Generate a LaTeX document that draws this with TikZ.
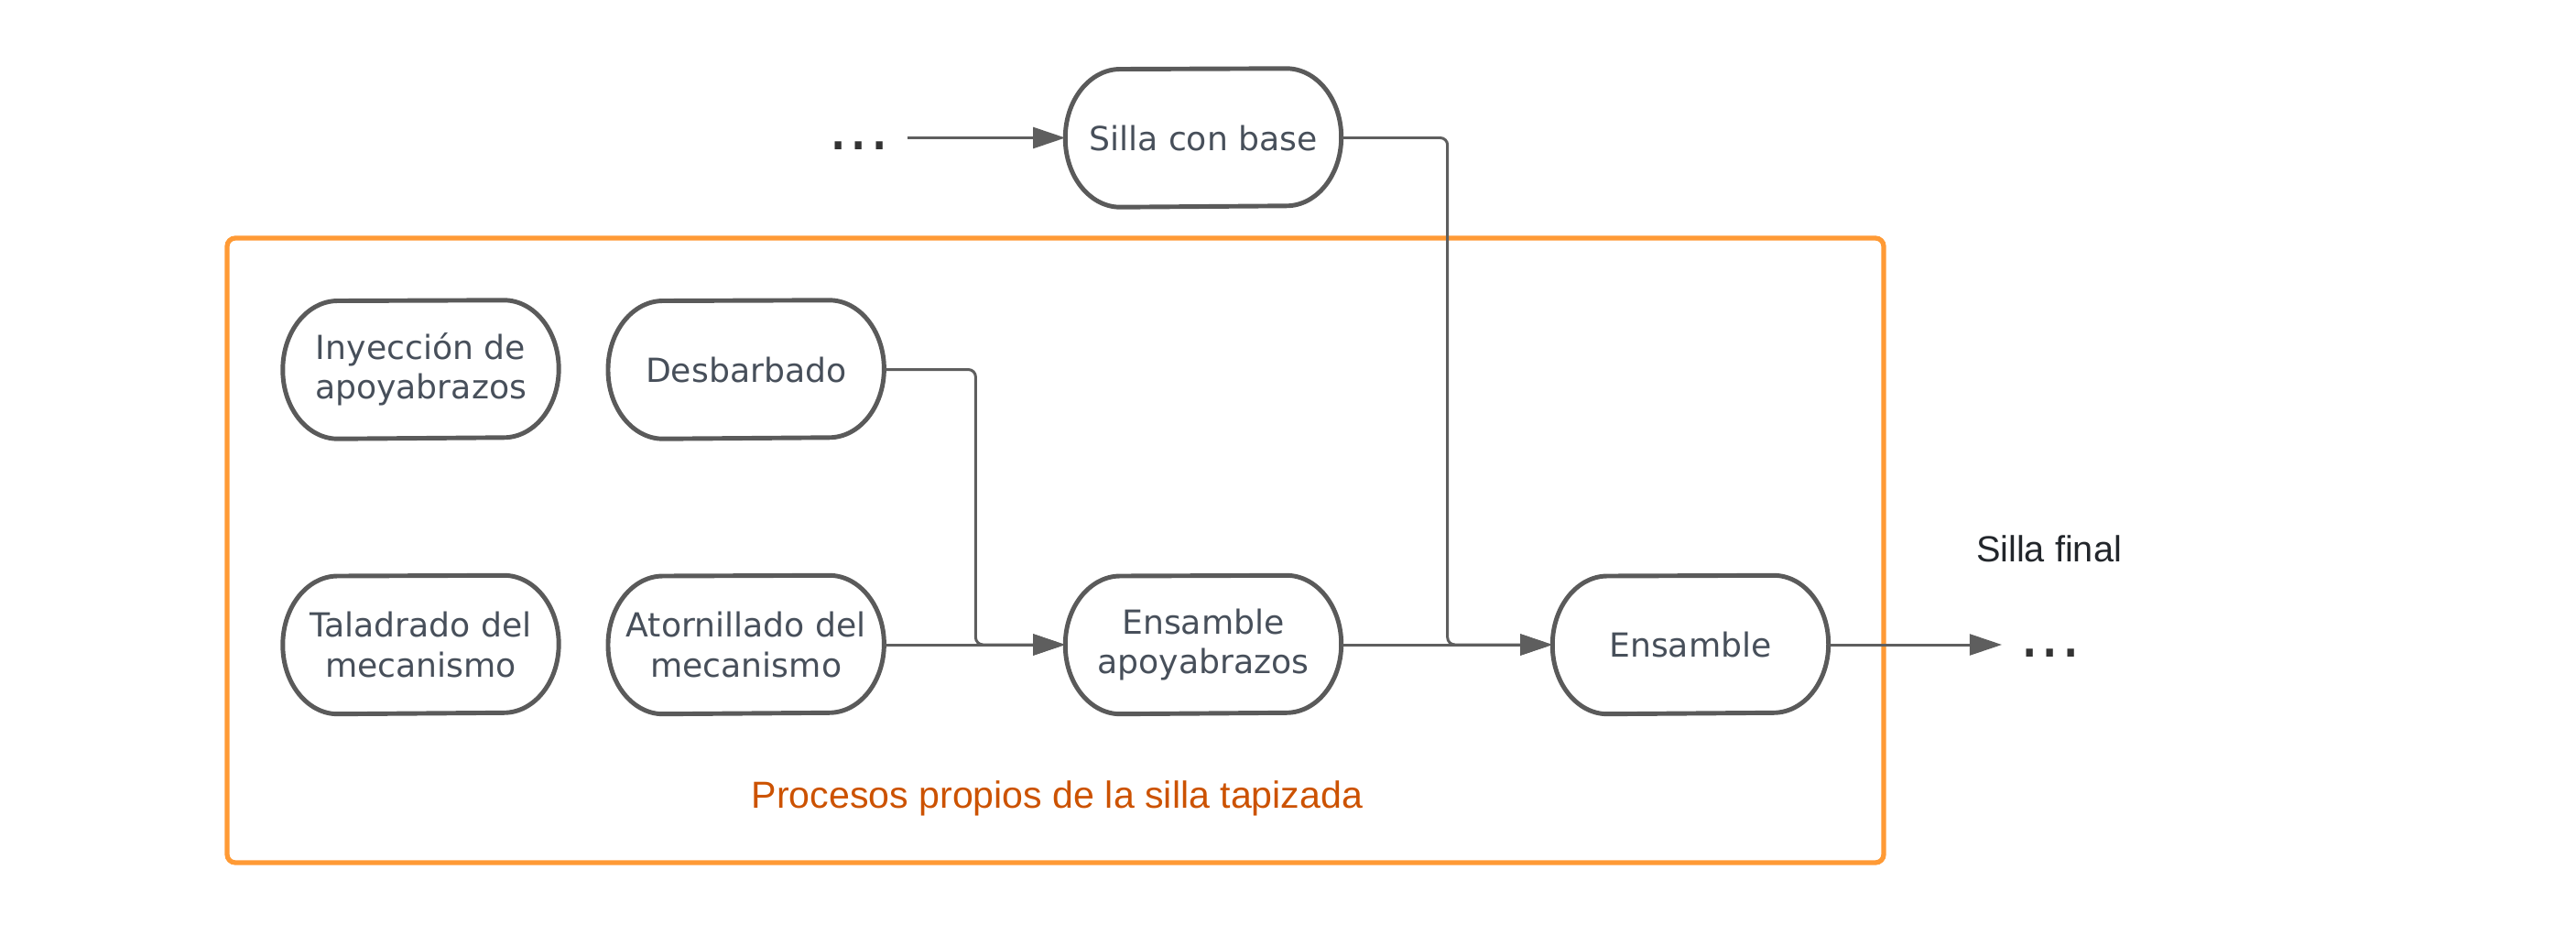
\documentclass[tikz,border=0pt]{standalone}
\usepackage{fontspec}
\setmainfont{Liberation Sans}
\newfontfamily\boxfont{DejaVu Sans}
\usetikzlibrary{arrows.meta}

\definecolor{boxgray}{HTML}{5A5A5A}
\definecolor{boxtext}{HTML}{474F5A}
\definecolor{linegray}{HTML}{5E5E5E}
\definecolor{dotgray}{HTML}{333333}
\definecolor{frameorange}{HTML}{FF9A35}
\definecolor{labelorange}{HTML}{CC5200}
\definecolor{finaltext}{HTML}{22262B}

\tikzset{
  proc/.style={minimum width=3cm, minimum height=1.5cm, inner sep=0pt, align=center,
    text=boxtext, font=\boxfont\fontsize{10.3}{12.3}\selectfont},
  outline/.style={draw=boxgray, line width=1.4pt, line join=round},
  conn/.style={draw=linegray, line width=0.85pt, -{Triangle[length=10pt,width=6.5pt]}},
  dots/.style={text=dotgray, anchor=base, font=\boxfont\fontsize{20}{24}\selectfont},
}

\begin{document}
\begin{tikzpicture}
\useasboundingbox (0,0) rectangle (28.13,-10.33);

%frame
\path[draw=frameorange,line width=1.5pt,rounded corners=0.09cm] (2.48,-2.60) rectangle (20.57,-9.42);
\node[text=labelorange,font=\fontsize{11.7}{14}\selectfont,anchor=base] (title) at (11.545,-8.82) {Procesos propios de la silla tapizada};

%top
\node[dots] (ldots) at (9.38,-1.63) {...};
\node[proc] (base) at (13.14,-1.505) {Silla con base};

%row 1
\node[proc] (inyec) at (4.595,-4.035) {Inyección de\\apoyabrazos};
\node[proc] (desb) at (8.147,-4.035) {Desbarbado};

%row 2
\node[proc] (talad) at (4.595,-7.04) {Taladrado del\\mecanismo};
\node[proc] (atorn) at (8.147,-7.04) {Atornillado del\\mecanismo};
\node[proc] (ensap) at (13.14,-7.04) {Ensamble\\apoyabrazos};
\node[proc] (ens) at (18.46,-7.04) {Ensamble};

%exit
\node[font=\fontsize{11.3}{13}\selectfont,text=finaltext,anchor=base] (final) at (22.375,-6.13) {Silla final};
\node[dots] (rdots) at (22.39,-7.17) {...};

%outlines
\foreach \n in {base,inyec,desb,talad,atorn,ensap,ens}
  \draw[outline] (\n.west)
    arc[start angle=180,end angle=90,x radius=0.6cm,y radius=0.75cm]
    -- ([xshift=-0.6cm]\n.north east)
    arc[start angle=90,end angle=-90,x radius=0.6cm,y radius=0.75cm]
    -- ([xshift=0.6cm]\n.south west)
    arc[start angle=270,end angle=180,x radius=0.6cm,y radius=0.75cm] -- cycle;

%connectors
\path[conn] ([xshift=0.07cm]ldots.east |- base.west) -- (base.west);
\path[conn,rounded corners=0.08cm] (base.east) -- ++(1.16,0) |- (ens.west);
\path[conn,rounded corners=0.08cm] (desb.east) -- ++(1.0,0) |- (ensap.west);
\path[conn] (atorn.east) -- (ensap.west);
\path[conn] (ensap.east) -- (ens.west);
\path[conn] (ens.east) -- ([xshift=-0.07cm]rdots.west |- ens.east);

\end{tikzpicture}
\end{document}
